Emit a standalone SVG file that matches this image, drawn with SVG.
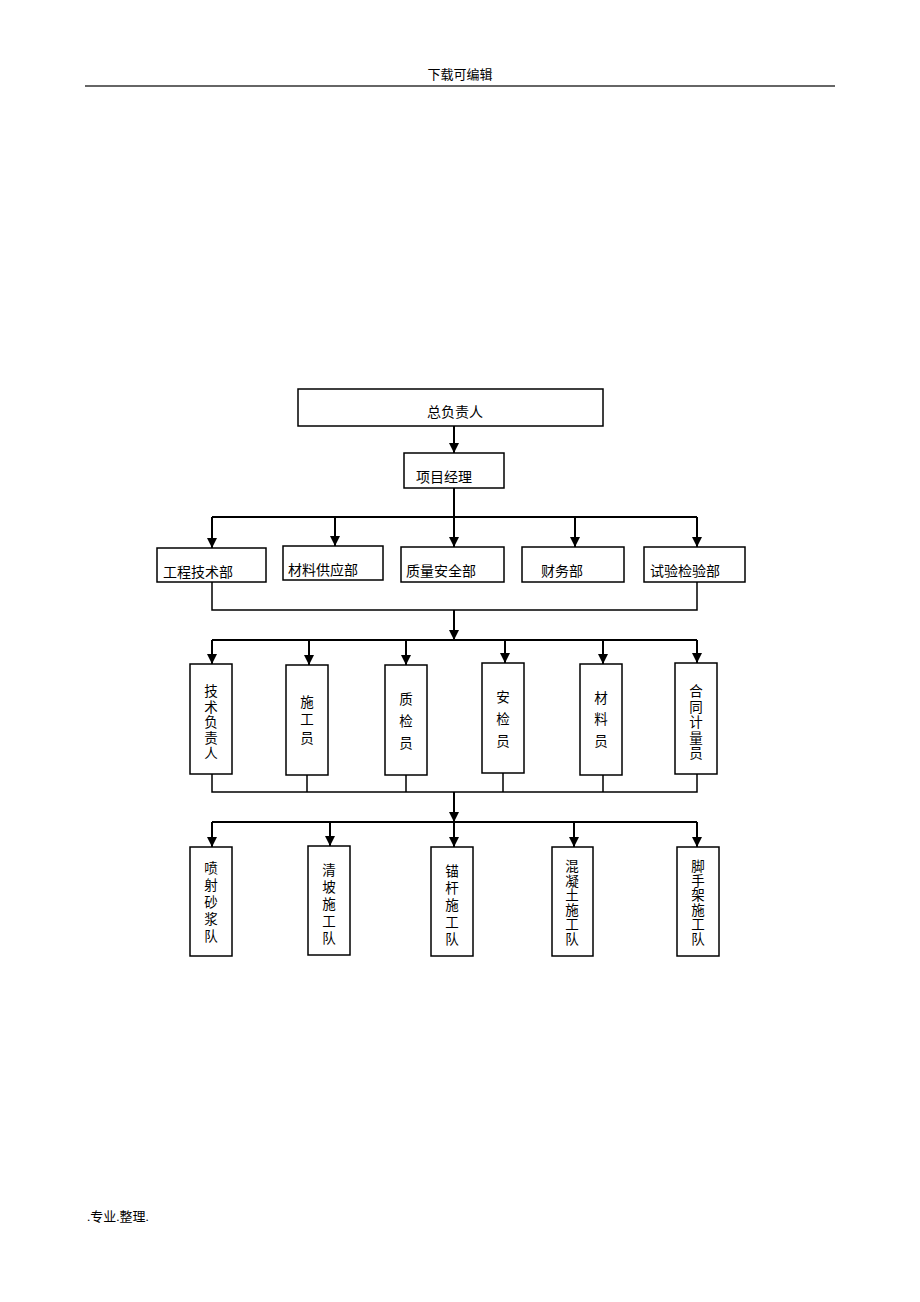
<svg xmlns="http://www.w3.org/2000/svg" width="920" height="1302" viewBox="0 0 920 1302">
<style>
.bg{fill:#fff}
.box{fill:#fff;stroke:#000;stroke-width:1.5}
.t{font-family:"Liberation Serif","Noto Sans CJK SC",serif;font-size:14px;fill:#000}
.v{font-family:"Liberation Serif","Noto Sans CJK SC",serif;font-size:13.5px;fill:#000;text-anchor:middle}
.c{fill:none;stroke:#000;stroke-width:2}
.ca{fill:none;stroke:#000;stroke-width:2;marker-end:url(#ah)}
.thin{fill:none;stroke:#000;stroke-width:1.5}
</style>
<defs>
<marker id="ah" markerUnits="userSpaceOnUse" markerWidth="10" markerHeight="12" refX="10" refY="5" orient="auto">
<path d="M0,0 L10,5 L0,10 z" fill="#000"/>
</marker>
</defs>
<rect class="bg" x="0" y="0" width="920" height="1302"/>
<g id="header">
<text class="t" x="460" y="79" text-anchor="middle" style="font-size:13px">下载可编辑</text>
<line x1="85" y1="86" x2="835" y2="86" stroke="#333" stroke-width="1.5"/>
</g>
<g id="footer">
<text class="t" x="87" y="1221" style="font-size:13px">.专业.整理.</text>
</g>
<g id="connectors">
<line class="ca" x1="454" y1="426" x2="454" y2="453"/>
<path class="c" d="M454,488 V517 M212,517 H697"/>
<line class="ca" x1="212" y1="517" x2="212" y2="548"/>
<line class="ca" x1="335" y1="517" x2="335" y2="546"/>
<line class="ca" x1="454" y1="517" x2="454" y2="547"/>
<line class="ca" x1="575" y1="517" x2="575" y2="547"/>
<line class="ca" x1="697" y1="517" x2="697" y2="547"/>
<path class="thin" d="M212,582 V610 H697 V582"/>
<line class="ca" x1="454" y1="610" x2="454" y2="640"/>
<line class="c" x1="212" y1="640" x2="697" y2="640"/>
<line class="ca" x1="212" y1="640" x2="212" y2="664"/>
<line class="ca" x1="309" y1="640" x2="309" y2="665"/>
<line class="ca" x1="406" y1="640" x2="406" y2="665"/>
<line class="ca" x1="505" y1="640" x2="505" y2="663"/>
<line class="ca" x1="603" y1="640" x2="603" y2="664"/>
<line class="ca" x1="697" y1="640" x2="697" y2="663"/>
<path class="thin" d="M212,774 V792 H697 V774 M307,775 V792 M406,775 V792 M503,773 V792 M603,775 V792"/>
<line class="ca" x1="454" y1="792" x2="454" y2="822"/>
<line class="c" x1="212" y1="822" x2="697" y2="822"/>
<line class="ca" x1="212" y1="822" x2="212" y2="847"/>
<line class="ca" x1="330" y1="822" x2="330" y2="846"/>
<line class="ca" x1="454" y1="822" x2="454" y2="847"/>
<line class="ca" x1="574" y1="822" x2="574" y2="847"/>
<line class="ca" x1="697" y1="822" x2="697" y2="847"/>
</g>
<g id="n-zongfuzeren"><rect class="box" x="298" y="389" width="305" height="37"/><text class="t" x="455" y="417" text-anchor="middle">总负责人</text></g>
<g id="n-xiangmujingli"><rect class="box" x="404" y="453" width="100" height="35"/><text class="t" x="416" y="482">项目经理</text></g>
<g id="n-gcjsb"><rect class="box" x="157" y="548" width="109" height="34"/><text class="t" x="163" y="577">工程技术部</text></g>
<g id="n-clgyb"><rect class="box" x="283" y="546" width="100" height="34"/><text class="t" x="288" y="575">材料供应部</text></g>
<g id="n-zlaqb"><rect class="box" x="401" y="547" width="103" height="35"/><text class="t" x="406" y="576">质量安全部</text></g>
<g id="n-cwb"><rect class="box" x="522" y="547" width="102" height="35"/><text class="t" x="541" y="576">财务部</text></g>
<g id="n-syjyb"><rect class="box" x="644" y="547" width="101" height="35"/><text class="t" x="650" y="576">试验检验部</text></g>
<g id="n-jsfzr"><rect class="box" x="190" y="664" width="42" height="110"/><text class="v" x="211" y="696">技</text><text class="v" x="211" y="711.5">术</text><text class="v" x="211" y="727">负</text><text class="v" x="211" y="742.5">责</text><text class="v" x="211" y="758">人</text></g>
<g id="n-sgy"><rect class="box" x="286" y="665" width="42" height="110"/><text class="v" x="307" y="707">施</text><text class="v" x="307" y="724">工</text><text class="v" x="307" y="743">员</text></g>
<g id="n-zjy"><rect class="box" x="385" y="665" width="42" height="110"/><text class="v" x="406" y="704">质</text><text class="v" x="406" y="726">检</text><text class="v" x="406" y="748">员</text></g>
<g id="n-ajy"><rect class="box" x="482" y="663" width="42" height="110"/><text class="v" x="503" y="702">安</text><text class="v" x="503" y="724">检</text><text class="v" x="503" y="746">员</text></g>
<g id="n-cly"><rect class="box" x="580" y="664" width="42" height="111"/><text class="v" x="601" y="703">材</text><text class="v" x="601" y="724">料</text><text class="v" x="601" y="746">员</text></g>
<g id="n-htjly"><rect class="box" x="675" y="663" width="42" height="111"/><text class="v" x="696" y="696">合</text><text class="v" x="696" y="711.5">同</text><text class="v" x="696" y="727">计</text><text class="v" x="696" y="742.5">量</text><text class="v" x="696" y="758">员</text></g>
<g id="n-psjd"><rect class="box" x="190" y="847" width="42" height="109"/><text class="v" x="211" y="873">喷</text><text class="v" x="211" y="890">射</text><text class="v" x="211" y="907">砂</text><text class="v" x="211" y="924">浆</text><text class="v" x="211" y="941">队</text></g>
<g id="n-qpsgd"><rect class="box" x="308" y="846" width="42" height="109"/><text class="v" x="329" y="875">清</text><text class="v" x="329" y="892">坡</text><text class="v" x="329" y="909">施</text><text class="v" x="329" y="926">工</text><text class="v" x="329" y="943">队</text></g>
<g id="n-mgsgd"><rect class="box" x="431" y="847" width="42" height="109"/><text class="v" x="452" y="876">锚</text><text class="v" x="452" y="893">杆</text><text class="v" x="452" y="910">施</text><text class="v" x="452" y="927">工</text><text class="v" x="452" y="944">队</text></g>
<g id="n-hntsgd"><rect class="box" x="552" y="847" width="41" height="109"/><text class="v" x="572" y="871">混</text><text class="v" x="572" y="885.5">凝</text><text class="v" x="572" y="900">土</text><text class="v" x="572" y="914.5">施</text><text class="v" x="572" y="929">工</text><text class="v" x="572" y="943.5">队</text></g>
<g id="n-jsjsgd"><rect class="box" x="677" y="847" width="42" height="109"/><text class="v" x="698" y="871">脚</text><text class="v" x="698" y="885.5">手</text><text class="v" x="698" y="900">架</text><text class="v" x="698" y="914.5">施</text><text class="v" x="698" y="929">工</text><text class="v" x="698" y="943.5">队</text></g>
</svg>
